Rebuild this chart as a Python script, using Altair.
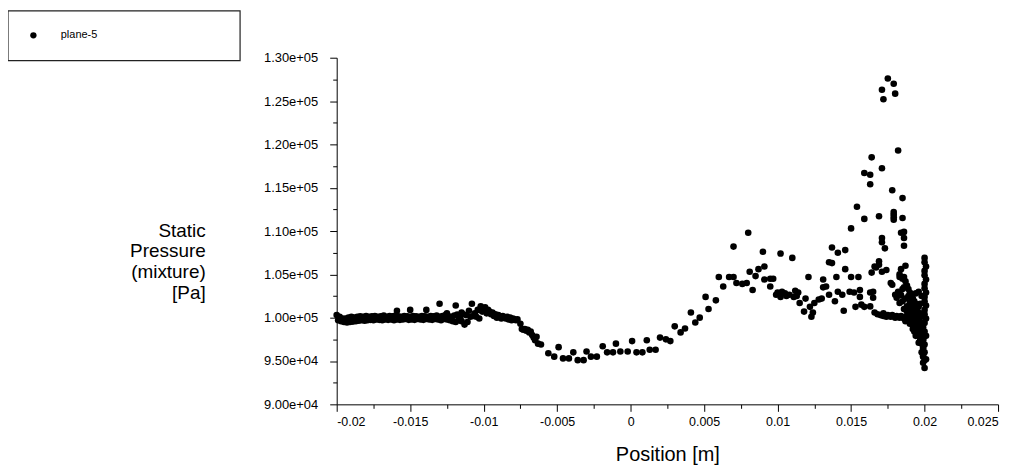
import altair as alt
import pandas as pd

# ---- data: Position [m] vs Static Pressure [Pa] ----
band_upper_x = [-0.0200, -0.0198, -0.0196, -0.0194, -0.0192, -0.0190, -0.0188, -0.0186, -0.0184, -0.0182,
                -0.0180, -0.0178, -0.0176, -0.0174, -0.0172, -0.0170, -0.0168, -0.0166, -0.0164, -0.0162,
                -0.0160, -0.0158, -0.0156, -0.0154, -0.0152, -0.0150, -0.0148, -0.0146, -0.0144, -0.0142,
                -0.0140, -0.0138, -0.0136, -0.0134, -0.0132, -0.0130, -0.0128, -0.0126, -0.0124, -0.0122,
                -0.0120, -0.0118, -0.0116, -0.0114, -0.0112]
band_upper_y = [100300, 100100, 99900, 99900, 100000, 100100, 100000, 100100, 100150, 100100,
                100200, 100100, 100150, 100200, 100100, 100150, 100250, 100100, 100200, 100150,
                100250, 100150, 100100, 100200, 100150, 100100, 100200, 100150, 100100, 100200,
                100150, 100100, 100200, 100150, 100250, 100100, 100200, 100300, 100150, 100100,
                100250, 100350, 100200, 100400, 100300]

band_lower_x = [-0.0199, -0.0197, -0.0195, -0.0193, -0.0191, -0.0189, -0.0187, -0.0185, -0.0183, -0.0181,
                -0.0179, -0.0177, -0.0175, -0.0173, -0.0171, -0.0169, -0.0167, -0.0165, -0.0163, -0.0161,
                -0.0159, -0.0157, -0.0155, -0.0153, -0.0151, -0.0149, -0.0147, -0.0145, -0.0143, -0.0141,
                -0.0139, -0.0137, -0.0135, -0.0133, -0.0131, -0.0129, -0.0127, -0.0125, -0.0123, -0.0121,
                -0.0119, -0.0117, -0.0115, -0.0113, -0.0111]
band_lower_y = [99700, 99600, 99500, 99450, 99500, 99550, 99600, 99650, 99700, 99650,
                99700, 99750, 99700, 99800, 99750, 99700, 99800, 99750, 99800, 99700,
                99800, 99750, 99800, 99850, 99750, 99800, 99750, 99850, 99800, 99750,
                99850, 99800, 99750, 99850, 99800, 99700, 99850, 99800, 99700, 99600,
                99500, 99700, 99600, 99200, 99500]

stray_x = [-0.0159, -0.0150, -0.0139, -0.0130, -0.0119, -0.0108, -0.0115, -0.0125]
stray_y = [100800, 100900, 100900, 101600, 101400, 101600, 100600, 100500]

trans_x = [-0.0110, -0.0107, -0.0106, -0.0104, -0.0102, -0.0101, -0.0100, -0.0099, -0.0098, -0.0097,
           -0.0096, -0.0095, -0.0094, -0.0093, -0.0092, -0.0091, -0.0090, -0.0089, -0.0088, -0.0087,
           -0.0086, -0.0085, -0.0084, -0.0083, -0.0082, -0.0081, -0.0080, -0.0079, -0.0078, -0.0077,
           -0.0109, -0.0105, -0.0103]
trans_y = [100800, 100200, 100500, 100900, 101300, 100700, 101000, 101200, 100500, 100900,
           100700, 100400, 100600, 100200, 100400, 100000, 100300, 100100, 99900, 100200,
           100000, 99900, 100100, 99800, 100000, 99700, 99900, 99800, 99700, 99800,
           100100, 100100, 99900]

trough_x = [-0.0075, -0.0074, -0.0073, -0.0072, -0.0071, -0.0070, -0.0069, -0.0068, -0.0067, -0.0066,
            -0.0065, -0.0064, -0.0063, -0.0061, -0.0056, -0.0052, -0.0049, -0.0046, -0.0042, -0.0039,
            -0.0036, -0.0032, -0.0030, -0.0027, -0.0023, -0.0019, -0.0016, -0.0012, -0.0010, -0.0007,
            -0.0002, 0.0001, 0.0004, 0.0008, 0.0011, 0.0013, 0.0017, 0.0020, 0.0024, 0.0027,
            0.0030]
trough_y = [99300, 98700, 98600, 98700, 98500, 98600, 98300, 98400, 98000, 97700,
            97400, 97800, 97000, 96900, 95900, 95500, 96600, 95300, 95300, 96000,
            95100, 95100, 96100, 95500, 95500, 96700, 96000, 96000, 97000, 96100,
            96100, 97300, 96000, 96000, 97400, 96300, 96300, 97700, 97500, 97300,
            99000]

rise_x = [0.0034, 0.0037, 0.0041, 0.0044, 0.0047, 0.0051, 0.0053, 0.0058, 0.0060, 0.0063,
          0.0067, 0.0070, 0.0070, 0.0072, 0.0076, 0.0079, 0.0080, 0.0081, 0.0083, 0.0085,
          0.0087, 0.0090, 0.0091, 0.0091, 0.0095, 0.0095, 0.0097, 0.0099, 0.0102, 0.0102,
          0.0105, 0.0108, 0.0110]
rise_y = [98300, 98750, 100600, 99450, 100000, 102400, 101000, 102000, 104700, 103600,
          104700, 104700, 108200, 104000, 103900, 104000, 109800, 105300, 103200, 104800,
          105600, 107600, 105900, 104400, 104500, 103600, 104500, 102650, 107400, 102400,
          102800, 102650, 106900]

mid_x = [0.0111, 0.0114, 0.0115, 0.0118, 0.0119, 0.0121, 0.0122, 0.0123, 0.0124, 0.0125,
         0.0128, 0.0130, 0.0131, 0.0131, 0.0133, 0.0135, 0.0135, 0.0137, 0.0137, 0.0139,
         0.0140, 0.0141, 0.0141, 0.0144, 0.0145, 0.0146, 0.0146, 0.0149, 0.0150, 0.0150,
         0.0152, 0.0153, 0.0154, 0.0155, 0.0156, 0.0156, 0.0157, 0.0159, 0.0159,
         0.0100, 0.0103, 0.0106, 0.0112, 0.0113]
mid_y = [102400, 102900, 101700, 100700, 102200, 104700, 101250, 100100, 100600, 101700,
         102100, 102200, 104400, 103500, 103600, 102650, 106400, 106300, 108100, 101900,
         104700, 107500, 103000, 102650, 100800, 105600, 107800, 103000, 110300, 104700,
         102900, 101250, 112800, 104700, 103200, 102400, 101500, 111400, 101250,
         102900, 103000, 102500, 103100, 102500]

peak_x = [0.0175, 0.0179, 0.0171, 0.0180, 0.0172, 0.0182, 0.0164, 0.0171, 0.0159, 0.0163,
          0.0163, 0.0178, 0.0185, 0.0169, 0.0179, 0.0179, 0.0179, 0.0179, 0.0185, 0.0186,
          0.0184, 0.0171, 0.0171, 0.0186, 0.0186, 0.0173, 0.0169, 0.0187, 0.0167, 0.0169,
          0.0171, 0.0164, 0.0174, 0.0166, 0.0163, 0.0165, 0.0163, 0.0165, 0.0177, 0.0178,
          0.0180, 0.0183]
peak_y = [127600, 127000, 126300, 125850, 125200, 119300, 118500, 117250, 116700, 116500,
          115400, 114700, 113800, 111700, 112200, 111900, 111600, 111300, 111500, 109900,
          109800, 109200, 108700, 109200, 108300, 108000, 106500, 106000, 105800, 106100,
          105300, 105200, 105500, 105900, 102900, 102300, 101300, 103000, 104000, 103800,
          102650, 104700]

arm_x = [0.0166, 0.0168, 0.0170, 0.0172, 0.0172, 0.0174, 0.0175, 0.0177, 0.0178, 0.0180,
         0.0181, 0.0183, 0.0184, 0.0186, 0.0187, 0.0189, 0.0191]
arm_y = [100600, 100400, 100300, 100500, 100200, 100100, 100300, 100100, 100300, 100000,
         100200, 100000, 100200, 99900, 100100, 100000, 100100]

blob_x = [0.0183, 0.0184, 0.0185, 0.0186, 0.0187, 0.0188, 0.0189, 0.0190, 0.0186, 0.0191,
          0.0189, 0.0192, 0.0187, 0.0193, 0.0190, 0.0185, 0.0194, 0.0191, 0.0188, 0.0196,
          0.0193, 0.0190, 0.0186, 0.0195, 0.0197, 0.0192, 0.0189, 0.0194, 0.0198, 0.0191,
          0.0196, 0.0193, 0.0189, 0.0197, 0.0195, 0.0192, 0.0198, 0.0194, 0.0196, 0.0193,
          0.0198, 0.0195, 0.0197, 0.0199, 0.0198, 0.0199, 0.0198, 0.0199, 0.0201, 0.0199,
          0.0182, 0.0184, 0.0181, 0.0183, 0.0185,
          0.0187, 0.0190, 0.0192, 0.0195, 0.0194, 0.0197, 0.0196, 0.0188, 0.0191, 0.0195,
          0.0197, 0.0198, 0.0196, 0.0194]
blob_y = [105000, 105600, 104500, 104700, 104200, 103700, 103300, 102900, 103500, 102600,
          102500, 102200, 102200, 101900, 101800, 101900, 101600, 101400, 101300, 101300,
          101000, 100900, 101000, 100700, 100500, 100500, 100400, 100200, 100100, 100000,
          99900, 99700, 99800, 99500, 99300, 99200, 99000, 98900, 98600, 98400,
          98300, 98100, 97800, 97500, 97000, 96500, 96000, 95600, 95200, 94800,
          103000, 102600, 102300, 101700, 103300,
          99600, 99300, 98700, 98200, 97900, 97400, 97100, 100700, 100600, 101000,
          101600, 102500, 103000, 102800]

col_x = [0.0200, 0.0200, 0.0201, 0.0200, 0.0200, 0.0201, 0.0200, 0.0200, 0.0201, 0.0200,
         0.0200, 0.0201, 0.0200, 0.0200, 0.0201, 0.0200, 0.0199, 0.0200, 0.0201, 0.0199,
         0.0200, 0.0199, 0.0200, 0.0199, 0.0200, 0.0200]
col_y = [106900, 106400, 105900, 105400, 104900, 104400, 103900, 103400, 102900, 102400,
         101900, 101400, 100900, 100400, 99900, 99400, 98900, 98400, 97900, 97400,
         96900, 96500, 96000, 95500, 95100, 94200]

series_name = "plane-5"

x_major = [-0.02, -0.015, -0.01, -0.005, 0, 0.005, 0.01, 0.015, 0.02, 0.025]
x_minor = [-0.0175, -0.0125, -0.0075, -0.0025, 0.0025, 0.0075, 0.0125, 0.0175, 0.0225]
y_major = [90000, 95000, 100000, 105000, 110000, 115000, 120000, 125000, 130000]
y_minor = [92500, 97500, 102500, 107500, 112500, 117500, 122500, 127500]

xs = (band_upper_x + band_lower_x + stray_x + trans_x + trough_x + rise_x + mid_x
      + peak_x + arm_x + blob_x + col_x)
ys = (band_upper_y + band_lower_y + stray_y + trans_y + trough_y + rise_y + mid_y
      + peak_y + arm_y + blob_y + col_y)
df = pd.DataFrame({"position": xs, "pressure": ys, "series": series_name})

FONT = "Liberation Sans"
xscale = alt.Scale(domain=[-0.02, 0.025], nice=False, zero=False)
yscale = alt.Scale(domain=[90000, 130000], nice=False, zero=False)

points = alt.Chart(df).mark_circle(size=44, opacity=1).encode(
    x=alt.X("position:Q", scale=xscale,
            axis=alt.Axis(values=x_major, labelExpr="'' + datum.value", orient="bottom",
                          title="Position [m]", titleFontSize=20, titleFontWeight="normal",
                          titleFont=FONT, titleX=332, titleY=56, titleAlign="center",
                          titleBaseline="alphabetic", tickSize=7, labelPadding=4,
                          labelFontSize=12.5, labelFont=FONT, grid=False)),
    y=alt.Y("pressure:Q", scale=yscale,
            axis=alt.Axis(values=y_major,
                          labelExpr="replace(format(datum.value, '.2e'), 'e+', 'e+0')",
                          orient="left",
                          title=["Static", "Pressure", "(mixture)", "[Pa]"],
                          titleAngle=0, titleAlign="right", titleBaseline="top",
                          titleX=-132, titleY=164, titleLineHeight=21,
                          titleFontSize=19, titleFontWeight="normal", titleFont=FONT,
                          tickSize=7, labelPadding=12, labelFontSize=13, labelFont=FONT,
                          grid=False)),
    color=alt.Color("series:N", scale=alt.Scale(range=["black"]),
                    legend=alt.Legend(orient="none", legendX=-310, legendY=-28, title=None,
                                      symbolType="circle", symbolSize=40, padding=0,
                                      labelOffset=22, labelFontSize=11, labelFont=FONT,
                                      symbolStrokeWidth=0)),
)

minor = alt.Chart(df).mark_point(size=0, opacity=0).encode(
    x=alt.X("position:Q", scale=xscale,
            axis=alt.Axis(values=x_minor, labels=False, title=None, domain=False,
                          tickSize=4, orient="bottom", grid=False)),
    y=alt.Y("pressure:Q", scale=yscale,
            axis=alt.Axis(values=y_minor, labels=False, title=None, domain=False,
                          tickSize=4, orient="left", grid=False)),
)

box = alt.Chart(pd.DataFrame({"k": [0]})).mark_rect(
    fill="white", fillOpacity=0, stroke="#222222", strokeWidth=1.2
).encode(x=alt.value(-330), x2=alt.value(-97), y=alt.value(-47), y2=alt.value(3))

chart = alt.layer(box, points, minor).resolve_axis(
    x="independent", y="independent"
).properties(
    width=664, height=348,
    autosize=alt.AutoSizeParams(type="none"),
    padding={"left": 330, "top": 49, "right": 15, "bottom": 60},
).configure_view(stroke=None).configure_axis(
    domainColor="black", tickColor="black", labelColor="black", titleColor="black"
)

chart.save("out.html", embed_options={"renderer": "svg", "actions": False})
